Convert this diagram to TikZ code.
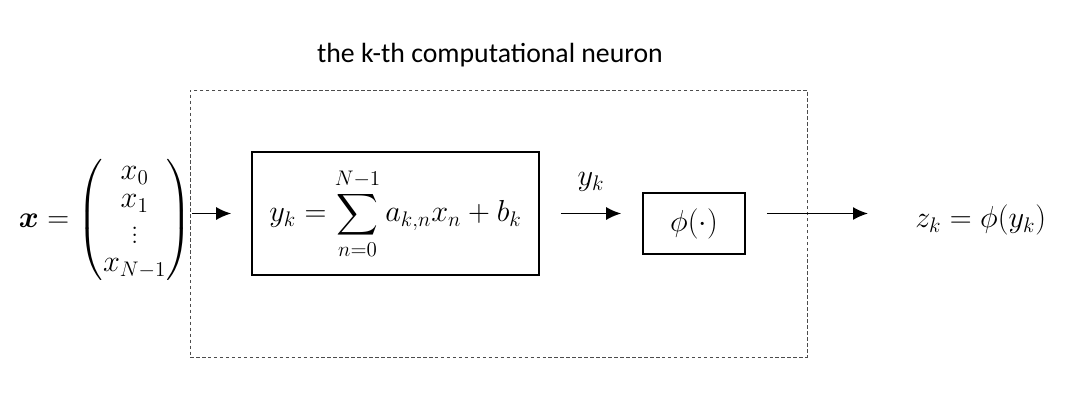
\documentclass[tikz,border=0pt]{standalone}
\usepackage{amsmath}
\usepackage{amssymb}
\usepackage{bm}
\usepackage{fontspec}
\usepackage{tikz}
\usetikzlibrary{arrows.meta, positioning, calc}
\newfontfamily\titlefont{Carlito}
\tikzset{
	blk/.style      ={rectangle, draw=black, line width=0.9pt, align=center, inner sep=0pt},
	neuronbox/.style={rectangle, draw=black!70, dash pattern=on 2pt off 1.4pt, line width=0.5pt, inner sep=0pt},
	sig/.style      ={-{Latex[length=3mm, width=2.6mm]}, line width=1pt},
}

\begin{document}
\begin{tikzpicture}[x=0.02cm, y=-0.02cm, font=\fontsize{16.5}{20}\selectfont]
			\useasboundingbox (0,0) rectangle (1085,414);
			\node[neuronbox, minimum width=12.34cm, minimum height=5.34cm] (neuron) at (498.5,223.5) {};
			\node[above=0.33cm of neuron, xshift=-0.17cm, font=\titlefont\fontsize{15.8}{18}\selectfont] (title) {the k-th computational neuron};
			\node[blk, minimum width=5.74cm, minimum height=2.46cm] (sum) at (395.5,213.5) {$\displaystyle y_k=\sum_{n=0}^{N-1} a_{k,n}x_n+b_k$};
			\node[blk, minimum width=2.04cm, minimum height=1.22cm] (phi) at (694,223.5) {$\phi(\cdot)$};
			\node[anchor=east, inner sep=0pt] (xvec) at (192,220) {\renewcommand{\arraystretch}{0.8}$\bm{x}=\begin{pmatrix} x_0\\ x_1\\ \vdots\\ x_{N-1}\end{pmatrix}$};
			\node[anchor=west, inner sep=0pt] (zk) at (915,220) {$z_k=\phi(y_k)$};
			\draw[sig, shorten >=0.4cm] (xvec.east |- sum.west) -- (sum.west);
			\draw[sig, shorten <=0.42cm, shorten >=0.42cm] (sum.east) -- (sum.east -| phi.west) node[midway, above=0.3cm] (yk) {$y_k$};
			\draw[sig, shorten <=0.42cm, shorten >=0.94cm] (phi.east |- sum.east) -- (zk.west |- sum.east);
		\end{tikzpicture}
\end{document}
